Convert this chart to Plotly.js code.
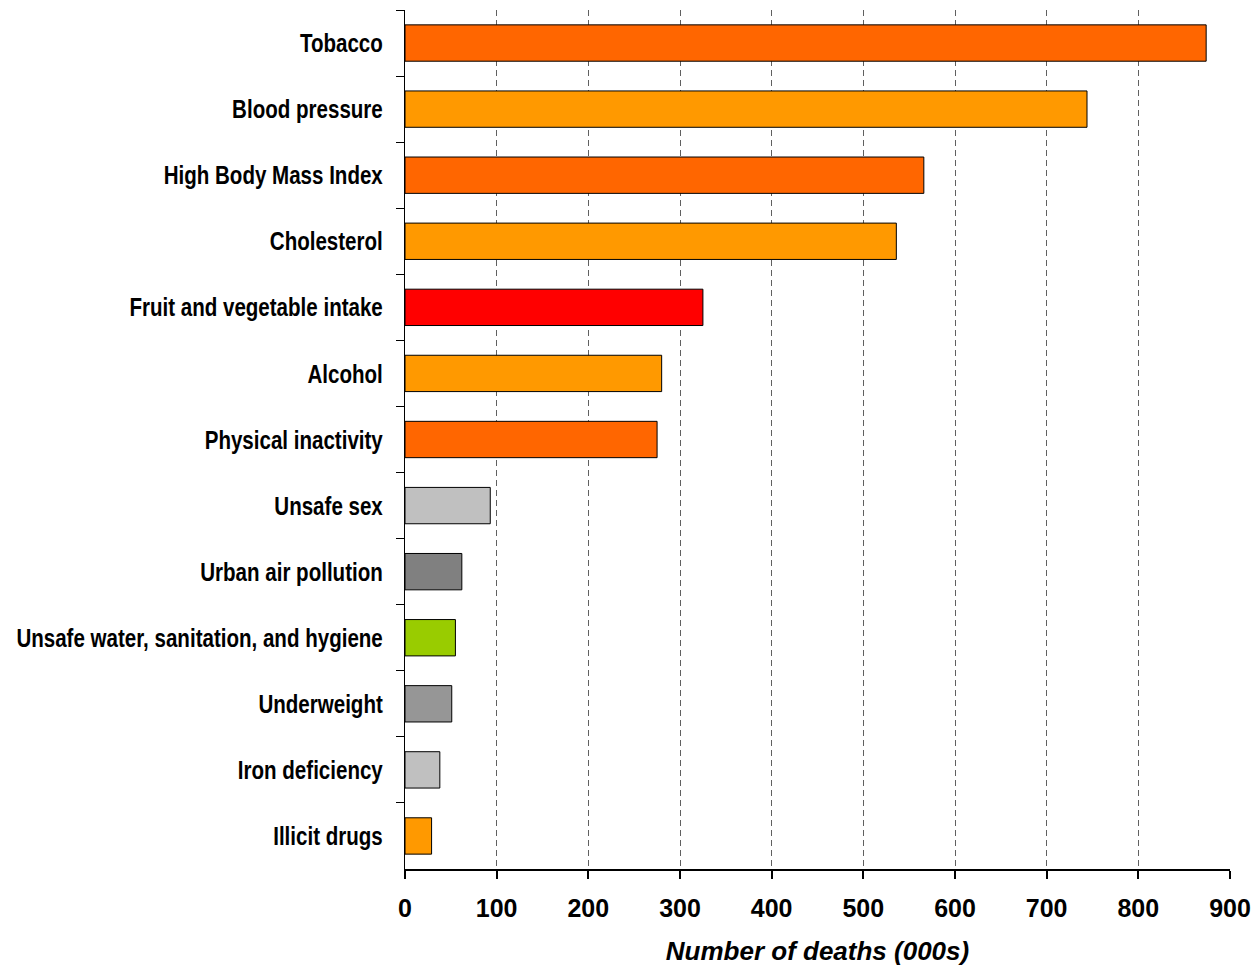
<!DOCTYPE html>
<html>
<head>
<meta charset="utf-8">
<script src="https://cdn.plot.ly/plotly-3.0.1.min.js"></script>
<style>html,body{margin:0;padding:0;background:#fff;}#chart{width:1256px;height:970px;}</style>
</head>
<body>
<div id="chart"></div>
<script>
var categories = ["Tobacco","Blood pressure","High Body Mass Index","Cholesterol","Fruit and vegetable intake","Alcohol","Physical inactivity","Unsafe sex","Urban air pollution","Unsafe water, sanitation, and hygiene","Underweight","Iron deficiency","Illicit drugs"];
var deaths = [874, 744, 566, 536, 325, 280, 275, 93, 62, 55, 51, 38, 29];
var barColors = ["#FF6600","#FF9900","#FF6600","#FF9900","#FF0000","#FF9900","#FF6600","#C0C0C0","#808080","#99CC00","#969696","#C0C0C0","#FF9900"];
var xTicks = [0,100,200,300,400,500,600,700,800,900];

var arial = "'Liberation Sans', Arial, sans-serif";
var trace = {
  type: "bar",
  orientation: "h",
  y: categories,
  x: deaths,
  marker: {color: barColors, line: {color: "#000000", width: 1}},
  hoverinfo: "x+y"
};
var layout = {
  width: 1256, height: 970,
  margin: {l: 405, r: 26, t: 10, b: 101},
  paper_bgcolor: "#ffffff", plot_bgcolor: "#ffffff",
  bargap: 0.45,
  showlegend: false,
  xaxis: {
    range: [0, 900],
    tickvals: xTicks,
    ticktext: xTicks.map(String),
    showgrid: true, gridcolor: "#606060", gridwidth: 1, griddash: "6px,4px",
    zeroline: false,
    showline: true, linecolor: "#000000", linewidth: 2,
    ticks: "outside", ticklen: 8, tickwidth: 2, tickcolor: "#000000",
    ticklabelstandoff: 8,
    tickfont: {family: arial, size: 25, color: "#000000", weight: "bold"},
    title: {text: "<b><i>Number of deaths (000s)</i></b>", font: {family: arial, size: 26, color: "#000000"}, standoff: 21}
  },
  yaxis: {
    autorange: "reversed",
    showgrid: false, zeroline: false,
    showline: true, linecolor: "#000000", linewidth: 1,
    ticks: "outside", ticklen: 8, tickwidth: 1, tickcolor: "#000000",
    tickson: "boundaries",
    ticklabelstandoff: 16,
    tickfont: {family: arial, size: 26, color: "#000000", weight: "bold"}
  }
};
Plotly.newPlot("chart", [trace], layout, {displayModeBar: false, staticPlot: true}).then(function(gd){
  // condense category labels (narrow typeface look)
  var texts = gd.querySelectorAll(".yaxislayer-above .ytick text");
  texts.forEach(function(t){
    var w = t.getComputedTextLength();
    t.setAttribute("textLength", (w * 0.79).toFixed(1));
    t.setAttribute("lengthAdjust", "spacingAndGlyphs");
  });
});
</script>
</body>
</html>
